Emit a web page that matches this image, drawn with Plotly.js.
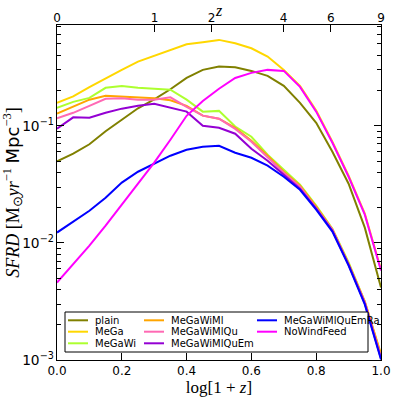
<!DOCTYPE html>
<html>
<head>
<meta charset="utf-8">
<script src="https://cdn.plot.ly/plotly-3.0.1.min.js"></script>
<style>html,body{margin:0;padding:0;background:#fff}</style>
</head>
<body>
<div id="plot" style="width:394px;height:398px"></div>
<script>
// log10(1+z) sampling of every run
const logOnePlusZ = [0, 0.05, 0.1, 0.15, 0.2, 0.25, 0.3, 0.35, 0.4, 0.45, 0.5,
                     0.55, 0.6, 0.65, 0.7, 0.75, 0.8, 0.85, 0.9, 0.95, 1.0];

const runNames = ['plain', 'MeGa', 'MeGaWi', 'MeGaWiMl', 'MeGaWiMlQu',
                  'MeGaWiMlQuEm', 'MeGaWiMlQuEmRa', 'NoWindFeed'];
const runColors = ['#808000', '#ffd700', '#adff2f', '#ffa500', '#ff69b4',
                   '#9400d3', '#0000ff', '#ff00ff'];

// SFRD [Msun/yr/Mpc^3]
const sfrdPlain = [0.0496, 0.0577, 0.0695, 0.0897, 0.1125, 0.141, 0.168, 0.205, 0.256, 0.300, 0.321,
                   0.316, 0.294, 0.267, 0.219, 0.157, 0.106, 0.060, 0.032, 0.0135, 0.00416];
const sfrdMeGa = [0.157, 0.178, 0.214, 0.255, 0.300, 0.353, 0.397, 0.445, 0.497, 0.517, 0.541,
                  0.507, 0.459, 0.390, 0.300, 0.219, 0.135, 0.073, 0.0375, 0.0178, 0.0059];
const sfrdMeGaWi = [0.142, 0.160, 0.173, 0.211, 0.219, 0.211, 0.207, 0.203, 0.167, 0.132, 0.134,
                    0.0986, 0.0806, 0.0566, 0.0422, 0.0314, 0.0208, 0.0132, 0.0068, 0.00316, 0.0011];
const sfrdMeGaWiMl = [0.127, 0.145, 0.167, 0.180, 0.178, 0.175, 0.172, 0.165, 0.148, 0.122, 0.115,
                      0.0961, 0.0745, 0.0555, 0.0405, 0.0308, 0.0204, 0.0130, 0.00666, 0.00316, 0.00112];
const sfrdMeGaWiMlQu = [0.116, 0.129, 0.148, 0.170, 0.172, 0.167, 0.167, 0.175, 0.145, 0.122, 0.115,
                        0.094, 0.0731, 0.0544, 0.0397, 0.0302, 0.0200, 0.0130, 0.00653, 0.0031, 0.00105];
const sfrdMeGaWiMlQuEm = [0.0942, 0.118, 0.117, 0.129, 0.140, 0.148, 0.154, 0.142, 0.132, 0.100, 0.096,
                          0.0855, 0.0637, 0.0503, 0.0382, 0.0290, 0.0196, 0.0127, 0.00653, 0.00304, 0.00103];
const sfrdMeGaWiMlQuEmRa = [0.01225, 0.0152, 0.0188, 0.0243, 0.0327, 0.0405, 0.0474, 0.0555, 0.0624, 0.0662, 0.0675,
                            0.0589, 0.0533, 0.0456, 0.0367, 0.0284, 0.0192, 0.0125, 0.0064, 0.00298, 0.00101];
const sfrdNoWindFeed = [0.00459, 0.00653, 0.00948, 0.01403, 0.0212, 0.0321, 0.0484, 0.0760, 0.1216, 0.163, 0.207,
                        0.256, 0.283, 0.300, 0.294, 0.215, 0.132, 0.0716, 0.0367, 0.0174, 0.0058];

const runSfrd = [sfrdPlain, sfrdMeGa, sfrdMeGaWi, sfrdMeGaWiMl, sfrdMeGaWiMlQu,
                 sfrdMeGaWiMlQuEm, sfrdMeGaWiMlQuEmRa, sfrdNoWindFeed];

// top axis: redshift labels
const zTickText = ['0', '1', '2', '4', '6', '9'];
const zTickVals = zTickText.map(z => Math.log10(1 + Number(z)));

const traces = runSfrd.map((ys, i) => ({
  x: logOnePlusZ,
  y: ys,
  type: 'scatter',
  mode: 'lines',
  name: runNames[i],
  line: {color: runColors[i], width: 2},
  showlegend: false,
}));
// empty trace so the top axis gets drawn
traces.push({x: [0, 1], y: [null, null], xaxis: 'x2', type: 'scatter', mode: 'lines', showlegend: false, hoverinfo: 'skip'});

// hand-made legend box (matplotlib style, column major)
const plotL = 57, plotW = 324, plotT = 25, plotH = 335;
const px = v => (v - plotL) / plotW;
const py = v => (plotT + plotH - v) / plotH;
const colX = [68, 144, 257];
const rowY = [320.3, 331.7, 343.3];

const shapes = [{
  type: 'rect', xref: 'paper', yref: 'paper', layer: 'above',
  x0: px(65), x1: px(368), y0: py(352), y1: py(312),
  line: {color: '#000', width: 1}, fillcolor: '#fff',
}];
const annotations = [];
runNames.forEach((name, i) => {
  const col = i < 6 ? Math.floor(i / 3) : 2;
  const row = i < 6 ? i % 3 : i - 6;
  shapes.push({
    type: 'line', xref: 'paper', yref: 'paper', layer: 'above',
    x0: px(colX[col]), x1: px(colX[col] + 20), y0: py(rowY[row]), y1: py(rowY[row]),
    line: {color: runColors[i], width: 2},
  });
  annotations.push({
    xref: 'paper', yref: 'paper', x: px(colX[col] + 25), y: py(rowY[row]),
    xanchor: 'left', yanchor: 'middle', showarrow: false, text: name,
    font: {family: 'DejaVu Sans', size: 10, color: '#000'},
  });
});

// top axis title "z", placed above the redshift tick labels
annotations.push({
  xref: 'paper', yref: 'paper', x: px(219), y: py(1), xanchor: 'center', yanchor: 'top',
  showarrow: false, text: '<i>z</i>', font: {family: 'Liberation Serif', size: 16, color: '#000'},
  borderpad: 0,
});

const layout = {
  width: 394,
  height: 398,
  margin: {l: plotL, r: 394 - plotL - plotW, t: plotT, b: 398 - plotT - plotH},
  paper_bgcolor: '#fff',
  plot_bgcolor: '#fff',
  showlegend: false,
  font: {family: 'DejaVu Sans', color: '#000'},
  xaxis: {
    range: [0, 1],
    dtick: 0.2,
    tickformat: '.1f',
    ticks: 'inside',
    ticklen: 7,
    tickcolor: '#000',
    showline: true,
    linecolor: '#000',
    linewidth: 1,
    mirror: true,
    showgrid: false,
    zeroline: false,
    tickfont: {family: 'DejaVu Sans', size: 12},
    title: {text: 'log[1 + <i>z</i>]', font: {family: 'Liberation Serif', size: 17}, standoff: 3},
  },
  xaxis2: {
    overlaying: 'x',
    side: 'top',
    range: [0, 1],
    tickvals: zTickVals,
    ticktext: zTickText,
    ticks: 'inside',
    ticklen: 7,
    tickcolor: '#000',
    showline: false,
    showgrid: false,
    zeroline: false,
    tickfont: {family: 'DejaVu Sans', size: 12},
  },
  yaxis: {
    type: 'log',
    range: [-3, Math.log10(0.725)],
    dtick: 1,
    exponentformat: 'power',
    ticks: 'inside',
    ticklen: 7,
    tickcolor: '#000',
    showline: true,
    linecolor: '#000',
    linewidth: 1,
    mirror: 'ticks',
    showgrid: false,
    zeroline: false,
    minor: {ticks: 'inside', ticklen: 4, tickcolor: '#000', dtick: 'D1', showgrid: false},
    tickfont: {family: 'DejaVu Sans', size: 11},
    title: {
      text: '<i>SFRD</i> [M<sub>⊙</sub><i>yr</i><sup>−1</sup> <span style="font-family:DejaVu Sans">Mpc</span><sup>−3</sup>]',
      font: {family: 'Liberation Serif', size: 18},
      standoff: 4,
    },
  },
  shapes: shapes,
  annotations: annotations,
};

Plotly.newPlot('plot', traces, layout, {displayModeBar: false, staticPlot: true});
</script>
</body>
</html>
